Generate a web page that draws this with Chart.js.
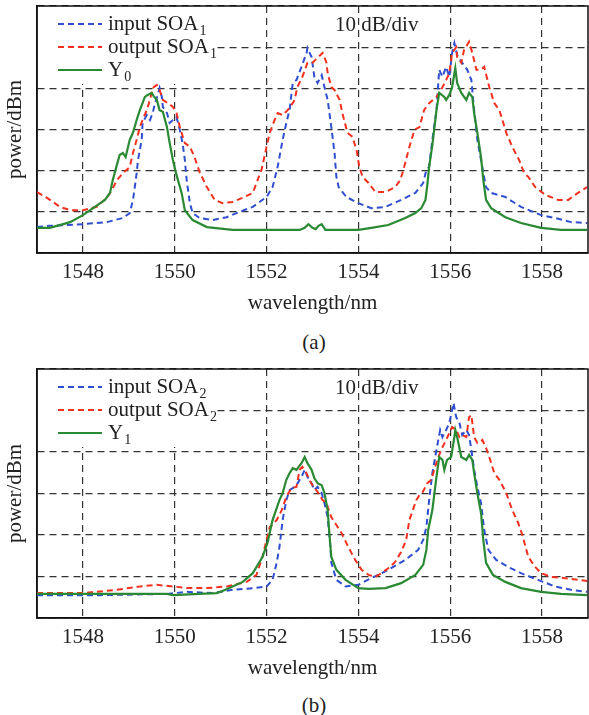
<!DOCTYPE html>
<html><head><meta charset="utf-8">
<script src="https://cdn.jsdelivr.net/npm/chart.js@4.4.0/dist/chart.umd.min.js"></script>
<style>
html,body{margin:0;padding:0;background:#fff;width:589px;height:715px;overflow:hidden;}
.panel{position:absolute;left:0;width:589px;height:320px;}
.cap{position:absolute;left:0;width:628px;text-align:center;font-family:"Liberation Serif","DejaVu Serif","Times New Roman",Times,serif;font-size:21px;color:#222;line-height:26px;}
</style></head><body>
<div class="panel" style="top:0"><canvas id="ca"></canvas></div>
<div class="cap" style="top:329px">(a)</div>
<div class="panel" style="top:365px"><canvas id="cb"></canvas></div>
<div class="cap" style="top:692px">(b)</div>
<script>
// ---- tick labels ----
const xTicks = [1548, 1550, 1552, 1554, 1556, 1558];
const yTicks = [-80, -70, -60, -50, -40, -30, -20];

// ---- panel (a) ----
const legendA = ['input SOA', 'output SOA', 'Y'];
const legendSubA = ['1', '1', '0'];
const wlA_in = [1547.00,1547.28,1548.00,1548.52,1548.87,1549.02,1549.09,1549.13,1549.17,1549.20,1549.28,1549.30,1549.39,1549.46,1549.52,1549.57,1549.63,1549.67,1549.72,1549.74,1549.83,1549.89,1549.96,1550.04,1550.11,1550.17,1550.22,1550.26,1550.33,1550.39,1550.54,1550.83,1551.13,1551.41,1551.70,1552.00,1552.13,1552.24,1552.35,1552.43,1552.50,1552.57,1552.65,1552.76,1552.87,1552.89,1552.98,1553.04,1553.11,1553.20,1553.26,1553.33,1553.41,1553.48,1553.52,1553.57,1553.74,1554.00,1554.28,1554.59,1554.93,1555.24,1555.41,1555.48,1555.54,1555.61,1555.70,1555.76,1555.83,1555.91,1555.98,1556.04,1556.09,1556.15,1556.26,1556.37,1556.46,1556.48,1556.52,1556.59,1556.67,1556.72,1556.78,1556.89,1557.20,1557.54,1557.98,1558.28,1558.63,1558.98];
const pA_in = [-73.7,-73.4,-73.0,-72.5,-71.5,-70.3,-67.1,-64.0,-60.6,-57.4,-52.5,-48.4,-46.5,-47.7,-46.0,-43.6,-41.6,-39.9,-42.1,-44.5,-46.0,-48.4,-47.7,-47.0,-50.1,-53.3,-57.4,-62.3,-67.9,-70.3,-71.5,-72.0,-71.3,-70.0,-68.8,-66.4,-64.0,-59.1,-52.5,-48.4,-45.3,-38.7,-38.0,-34.8,-31.4,-30.2,-32.4,-37.2,-38.7,-36.8,-39.7,-42.8,-49.4,-55.7,-61.5,-64.0,-66.4,-67.9,-69.1,-68.8,-67.1,-65.4,-63.0,-59.8,-59.1,-52.5,-45.3,-35.5,-37.2,-34.8,-37.2,-31.4,-29.0,-31.9,-33.8,-35.5,-38.0,-40.4,-45.3,-52.5,-57.4,-60.6,-64.0,-65.4,-66.4,-68.8,-70.8,-71.5,-72.5,-72.7];
const wlA_out = [1547.00,1547.22,1547.50,1547.72,1548.00,1548.30,1548.52,1548.63,1548.74,1548.87,1549.02,1549.09,1549.17,1549.24,1549.30,1549.39,1549.46,1549.52,1549.61,1549.67,1549.74,1549.85,1549.96,1550.04,1550.11,1550.22,1550.33,1550.43,1550.54,1550.70,1550.87,1551.04,1551.26,1551.48,1551.70,1551.78,1551.89,1552.00,1552.07,1552.13,1552.24,1552.35,1552.46,1552.57,1552.61,1552.67,1552.78,1552.89,1553.00,1553.11,1553.22,1553.30,1553.33,1553.41,1553.48,1553.59,1553.65,1553.76,1553.87,1553.96,1554.02,1554.09,1554.22,1554.37,1554.59,1554.80,1554.91,1554.98,1555.11,1555.22,1555.33,1555.43,1555.54,1555.70,1555.80,1555.91,1555.98,1556.04,1556.13,1556.15,1556.24,1556.30,1556.41,1556.48,1556.57,1556.67,1556.74,1556.85,1556.96,1557.07,1557.22,1557.35,1557.50,1557.61,1557.70,1557.85,1558.07,1558.35,1558.57,1558.78,1558.98];
const pA_out = [-65.2,-66.6,-68.8,-69.6,-69.6,-68.8,-66.6,-64.7,-62.3,-60.6,-59.1,-55.7,-52.5,-49.4,-47.7,-45.3,-42.8,-39.9,-39.2,-40.4,-42.8,-43.6,-44.5,-46.0,-49.4,-53.3,-54.2,-56.7,-60.3,-64.0,-67.1,-67.9,-67.6,-66.6,-65.4,-63.0,-59.8,-54.2,-50.8,-48.9,-46.0,-46.5,-45.3,-43.6,-42.8,-39.7,-37.2,-33.8,-33.8,-32.6,-31.4,-33.6,-36.3,-39.7,-40.4,-42.8,-46.0,-50.8,-51.8,-55.0,-59.1,-61.5,-63.0,-65.2,-65.2,-64.0,-62.3,-59.8,-54.2,-50.1,-49.4,-45.3,-43.6,-42.1,-40.4,-38.0,-36.3,-31.4,-30.0,-32.4,-33.8,-30.7,-28.7,-31.4,-35.5,-35.5,-34.8,-39.7,-43.6,-45.3,-50.8,-54.2,-57.4,-60.6,-61.5,-64.0,-65.9,-67.1,-67.1,-65.4,-64.0];
const wlA_y = [1547.00,1547.28,1547.72,1548.00,1548.26,1548.48,1548.59,1548.65,1548.74,1548.80,1548.87,1548.93,1549.02,1549.09,1549.17,1549.24,1549.35,1549.41,1549.50,1549.54,1549.61,1549.67,1549.74,1549.83,1549.89,1549.96,1550.02,1550.07,1550.15,1550.22,1550.39,1550.70,1551.26,1552.07,1552.72,1552.83,1552.91,1553.00,1553.07,1553.13,1553.20,1553.28,1554.00,1554.28,1554.65,1555.02,1555.24,1555.37,1555.46,1555.50,1555.54,1555.61,1555.70,1555.76,1555.87,1555.91,1555.98,1556.04,1556.11,1556.15,1556.24,1556.35,1556.41,1556.48,1556.52,1556.59,1556.67,1556.72,1556.78,1556.89,1557.20,1557.54,1557.98,1558.41,1558.98];
const pA_y = [-73.9,-73.9,-72.5,-70.8,-68.8,-67.1,-65.4,-62.3,-58.6,-56.2,-55.7,-56.7,-52.5,-50.8,-47.7,-45.3,-42.1,-41.6,-41.1,-41.9,-42.8,-45.3,-45.7,-49.4,-53.3,-57.4,-60.3,-62.3,-65.4,-69.6,-72.0,-73.7,-74.4,-74.4,-74.4,-73.9,-73.0,-73.9,-74.2,-73.4,-73.0,-74.4,-74.4,-73.9,-73.2,-71.5,-70.3,-69.1,-67.1,-63.5,-59.1,-53.8,-45.3,-41.1,-42.1,-42.8,-41.6,-39.7,-35.1,-38.7,-41.1,-42.8,-41.1,-42.1,-46.0,-50.8,-56.7,-62.3,-67.1,-69.1,-71.3,-72.7,-73.9,-74.4,-74.4];

// ---- panel (b) ----
const legendB = ['input SOA', 'output SOA', 'Y'];
const legendSubB = ['2', '2', '1'];
const wlB_in = [1547.00,1548.37,1549.83,1550.26,1550.83,1551.26,1551.70,1552.00,1552.13,1552.22,1552.28,1552.35,1552.43,1552.50,1552.57,1552.65,1552.76,1552.83,1552.89,1552.98,1553.04,1553.11,1553.20,1553.26,1553.33,1553.39,1553.41,1553.52,1553.72,1554.00,1554.28,1554.65,1555.02,1555.30,1555.41,1555.48,1555.54,1555.61,1555.70,1555.78,1555.83,1555.91,1555.98,1556.04,1556.07,1556.13,1556.20,1556.26,1556.35,1556.41,1556.46,1556.52,1556.59,1556.67,1556.74,1556.83,1557.00,1557.26,1557.54,1557.91,1558.28,1558.63,1558.98];
const pB_in = [-74.5,-74.5,-74.2,-73.7,-74.0,-73.2,-72.8,-72.4,-70.8,-66.7,-62.9,-56.4,-51.6,-49.2,-48.7,-48.0,-46.0,-44.3,-46.0,-47.5,-49.2,-48.4,-49.9,-52.3,-55.7,-62.9,-66.7,-70.8,-72.4,-72.0,-70.4,-68.4,-66.0,-63.6,-61.2,-58.1,-51.6,-45.1,-39.5,-34.7,-36.4,-34.7,-33.0,-29.9,-28.2,-31.6,-33.0,-35.9,-34.7,-35.9,-39.5,-44.3,-48.4,-52.3,-58.8,-63.6,-66.0,-67.7,-69.2,-70.8,-72.4,-73.2,-73.7];
const wlB_out = [1547.00,1548.00,1548.74,1549.24,1549.61,1549.96,1550.26,1550.70,1551.13,1551.57,1551.78,1551.91,1552.00,1552.07,1552.22,1552.33,1552.43,1552.54,1552.65,1552.72,1552.78,1552.87,1552.93,1553.00,1553.11,1553.22,1553.30,1553.41,1553.52,1553.63,1553.78,1553.93,1554.07,1554.22,1554.37,1554.50,1554.65,1554.80,1554.93,1555.04,1555.11,1555.26,1555.33,1555.39,1555.50,1555.59,1555.65,1555.72,1555.80,1555.91,1555.98,1556.04,1556.13,1556.20,1556.26,1556.35,1556.41,1556.46,1556.52,1556.59,1556.70,1556.78,1556.85,1556.96,1557.07,1557.22,1557.35,1557.48,1557.57,1557.70,1557.85,1557.98,1558.20,1558.50,1558.78,1558.98];
const pB_out = [-74.0,-74.0,-73.2,-72.4,-72.0,-72.4,-72.8,-72.8,-72.4,-71.3,-69.6,-65.3,-61.2,-58.1,-56.4,-54.0,-50.8,-48.7,-48.4,-44.3,-43.6,-45.1,-46.7,-48.0,-49.6,-51.6,-52.3,-55.7,-57.6,-59.5,-62.9,-66.0,-68.4,-69.6,-70.1,-69.2,-68.0,-66.5,-64.1,-61.2,-56.4,-51.6,-50.4,-49.9,-47.5,-46.7,-44.3,-41.9,-39.5,-37.1,-35.4,-34.0,-34.7,-36.4,-35.9,-36.4,-31.6,-31.1,-36.4,-37.8,-37.1,-39.0,-41.2,-45.1,-46.7,-49.9,-54.0,-57.1,-60.0,-65.3,-67.7,-69.2,-70.1,-70.4,-70.8,-71.1];
const wlB_y = [1547.00,1548.00,1549.83,1549.96,1550.54,1550.91,1551.04,1551.26,1551.48,1551.70,1551.91,1552.02,1552.13,1552.28,1552.35,1552.43,1552.50,1552.57,1552.65,1552.76,1552.83,1552.89,1552.98,1553.04,1553.11,1553.20,1553.26,1553.33,1553.37,1553.41,1553.52,1553.72,1554.00,1554.22,1554.59,1554.93,1555.24,1555.41,1555.48,1555.52,1555.61,1555.70,1555.76,1555.83,1555.87,1555.93,1556.02,1556.09,1556.11,1556.15,1556.24,1556.35,1556.41,1556.48,1556.52,1556.59,1556.67,1556.72,1556.78,1556.93,1557.20,1557.54,1557.98,1558.41,1558.98];
const pB_y = [-74.2,-74.2,-74.2,-74.5,-74.2,-74.0,-73.5,-72.4,-71.3,-69.2,-65.3,-61.9,-56.4,-51.6,-49.9,-46.7,-45.1,-43.9,-44.3,-42.7,-41.2,-42.7,-44.3,-46.3,-47.5,-48.0,-49.9,-54.0,-60.0,-65.3,-68.4,-70.8,-72.8,-73.0,-72.8,-71.6,-69.6,-67.2,-63.6,-58.8,-54.0,-46.0,-41.2,-41.9,-44.3,-41.9,-41.2,-36.4,-34.7,-36.4,-41.2,-41.9,-40.7,-41.9,-45.1,-49.9,-54.7,-61.2,-66.7,-69.6,-71.3,-72.8,-73.7,-74.2,-74.5];

const FONT = '"Liberation Serif", "DejaVu Serif", "Times New Roman", Times, serif';
const BLUE = '#2f4fd0', RED = '#f2301f', GREEN = '#2a8a33';

function pts(xs, ys) { return xs.map((x, i) => ({ x: x, y: ys[i] })); }

const decorPlugin = {
  id: 'decor',
  beforeDatasetsDraw(chart, args, opts) {
    const ctx = chart.ctx, ca = chart.chartArea;
    ctx.save();
    ctx.fillStyle = '#fff';
    ctx.fillRect(ca.left + 1, ca.top + 1, 178, 77);
    ctx.setLineDash([]);
    ctx.strokeStyle = '#111';
    ctx.lineWidth = 1.5;
    ctx.strokeRect(ca.left, ca.top, ca.right - ca.left, ca.bottom - ca.top);
    chart.data.datasets.forEach((ds, i) => {
      const y = ca.top + 18 + i * 23;
      ctx.strokeStyle = ds.borderColor;
      ctx.lineWidth = ds.borderWidth;
      ctx.setLineDash(ds.borderDash || []);
      ctx.beginPath();
      ctx.moveTo(ca.left + 21, y);
      ctx.lineTo(ca.left + 65, y);
      ctx.stroke();
      ctx.setLineDash([]);
      ctx.fillStyle = '#222';
      ctx.textBaseline = 'middle';
      ctx.textAlign = 'left';
      ctx.font = '21px ' + FONT;
      ctx.fillText(opts.names[i], ca.left + 71, y);
      const w = ctx.measureText(opts.names[i]).width;
      ctx.font = '14px ' + FONT;
      ctx.fillText(opts.subs[i], ca.left + 72 + w, y + 7);
    });
    ctx.font = '21px ' + FONT;
    ctx.fillStyle = '#222';
    ctx.textBaseline = 'middle';
    ctx.fillText(opts.note, ca.left + 298, ca.top + 19);
    ctx.restore();
  }
};

function makeChart(id, topPad, names, subs, series) {
  const dsStyle = [
    { color: BLUE, dash: [6, 4], width: 2, order: 2 },
    { color: RED, dash: [6, 4], width: 2, order: 1 },
    { color: GREEN, dash: [], width: 2.2, order: 0 }
  ];
  return new Chart(document.getElementById(id), {
    type: 'line',
    data: {
      datasets: series.map((s, i) => ({
        label: names[i] + subs[i],
        data: pts(s[0], s[1]),
        borderColor: dsStyle[i].color,
        borderDash: dsStyle[i].dash,
        borderWidth: dsStyle[i].width,
        order: dsStyle[i].order,
        pointRadius: 0,
        tension: 0,
        fill: false
      }))
    },
    options: {
      responsive: true,
      maintainAspectRatio: false,
      animation: false,
      layout: { padding: { top: topPad, right: 1, bottom: 0, left: 0 } },
      plugins: {
        legend: { display: false },
        tooltip: { enabled: false },
        decor: { names: names, subs: subs, note: '10 dB/div' }
      },
      scales: {
        x: {
          type: 'linear', min: 1547, max: 1559,
          afterBuildTicks: s => { s.ticks = xTicks.map(v => ({ value: v })); },
          afterFit: s => { s.height = 67; },
          ticks: { font: { family: FONT, size: 21 }, color: '#222', padding: 7, maxRotation: 0, autoSkip: false, callback: v => String(v) },
          grid: { color: '#333', lineWidth: 1.2, drawTicks: false },
          border: { display: true, color: '#111', width: 1.5, dash: [7, 5] },
          title: { display: true, text: 'wavelength/nm', font: { family: FONT, size: 21 }, color: '#222', padding: { top: 0, bottom: 4 } }
        },
        y: {
          type: 'linear', min: -80, max: -20,
          afterBuildTicks: s => { s.ticks = yTicks.map(v => ({ value: v })); },
          afterFit: s => { s.width = 37; },
          ticks: { display: false },
          grid: { color: '#333', lineWidth: 1.2, drawTicks: false },
          border: { display: true, color: '#111', width: 1.5, dash: [7, 5] },
          title: { display: true, text: 'power/dBm', font: { family: FONT, size: 21 }, color: '#222', padding: { top: 3, bottom: 0 } }
        }
      }
    },
    plugins: [decorPlugin]
  });
}

makeChart('ca', 6, legendA, legendSubA, [[wlA_in, pA_in], [wlA_out, pA_out], [wlA_y, pA_y]]);
makeChart('cb', 4, legendB, legendSubB, [[wlB_in, pB_in], [wlB_out, pB_out], [wlB_y, pB_y]]);
</script>
</body></html>
